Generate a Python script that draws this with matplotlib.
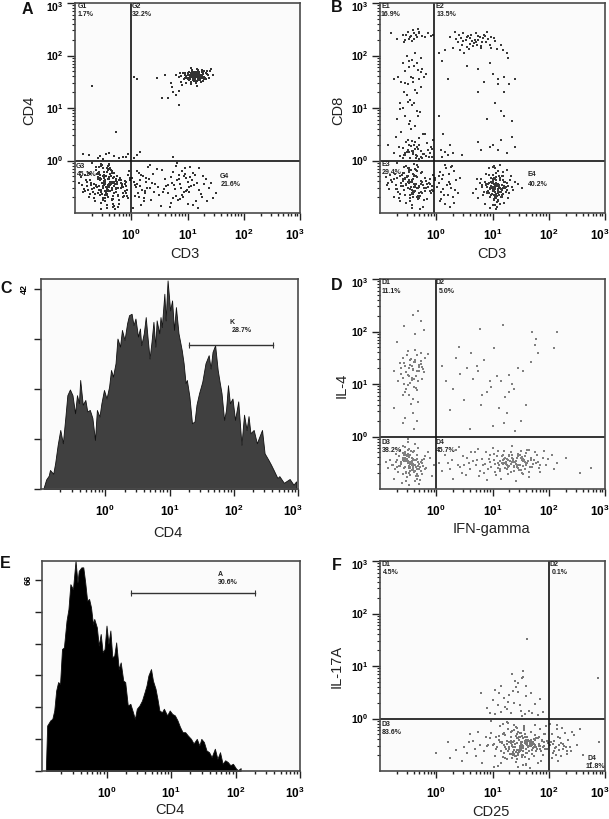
import numpy as np
import matplotlib
matplotlib.use("Agg")
import matplotlib.pyplot as plt
from matplotlib.transforms import ScaledTranslation

W, H = 609, 819
plt.rcParams['font.family'] = ['Liberation Sans', 'DejaVu Sans']
plt.rcParams['mathtext.default'] = 'regular'

# All scatter values are log10 of the fluorescence intensity
a_g2_x = [1.10,1.05,1.18,0.95,1.22,1.12,1.01,1.30,0.88,1.15,
          1.08,1.25,0.98,1.16,1.35,1.04,1.20,0.92,1.13,1.28,
          1.07,1.19,0.85,1.40,1.11,1.02,1.24,1.17,0.96,1.32,
          1.09,1.14,1.23,0.90,1.45,1.06,1.21,0.99,1.27,1.12,
          0.80,1.16,1.38,1.03,1.26,1.10,0.94,1.33,1.18,1.07,
          1.13,1.22,1.00,1.29,0.87,1.42,1.15,1.05,1.20,1.09,
          1.11,1.14,1.17,1.08,1.19,1.06,1.23,1.12,1.16,1.10,
          1.04,1.13,1.21,1.09,1.26,0.97,1.18,1.07,1.31,1.15,
          1.02,1.24,1.11,0.93,1.19,1.28,1.06,1.14,1.36,1.00,
          1.17,1.08,1.22,1.12,0.89,1.27,1.05,1.16,1.34,1.10,
          1.20,0.96,1.13,1.25,1.03,1.18,1.09,1.30,1.15,1.07]
a_g2_y = [1.60,1.55,1.65,1.58,1.62,1.52,1.67,1.60,1.50,1.63,
          1.70,1.57,1.48,1.59,1.64,1.61,1.53,1.66,1.56,1.68,
          1.45,1.72,1.59,1.70,1.62,1.54,1.50,1.75,1.63,1.55,
          1.58,1.66,1.61,1.44,1.62,1.76,1.68,1.57,1.52,1.60,
          1.62,1.42,1.58,1.69,1.73,1.65,1.56,1.66,1.60,1.50,
          1.64,1.56,1.62,1.70,1.66,1.75,1.47,1.58,1.63,1.54,
          1.61,1.57,1.59,1.63,1.65,1.60,1.58,1.55,1.62,1.67,
          1.59,1.64,1.56,1.53,1.68,1.61,1.71,1.66,1.57,1.52,
          1.62,1.60,1.69,1.56,1.58,1.64,1.49,1.60,1.62,1.55,
          1.51,1.72,1.54,1.60,1.61,1.59,1.63,1.67,1.70,1.57,
          1.66,1.67,1.53,1.62,1.58,1.55,1.62,1.56,1.69,1.64]
a_g3_x = [-0.45,-0.52,-0.38,-0.60,-0.30,-0.48,-0.70,-0.42,-0.25,-0.55,
          -0.35,-0.62,-0.47,-0.18,-0.80,-0.40,-0.50,-0.28,-0.66,-0.36,
          -0.12,-0.58,-0.44,-0.74,-0.32,-0.20,-0.53,-0.88,-0.41,-0.08,
          -0.64,-0.34,-0.49,-0.22,-0.78,-0.43,-0.56,-0.15,-0.37,-0.68,
          -0.05,-0.46,-0.84,-0.27,-0.54,-0.39,-0.72,-0.10,-0.33,-0.60,
          -0.48,-0.24,-0.90,-0.42,-0.57,-0.30,-0.76,-0.02,-0.51,-0.36,
          -0.65,-0.17,-0.44,-0.82,-0.29,-0.55,-0.40,-0.70,-0.12,-0.47,
          -0.34,-0.61,-0.21,-0.50,-0.86,-0.38,-0.07,-0.59,-0.43,-0.26,
          -0.73,-0.35,-0.52,-0.15,-0.46,-0.67,-0.31,-0.93,-0.41,-0.04,
          -0.56,-0.23,-0.48,-0.77,-0.33,-0.62,-0.10,-0.45,-0.37,-0.53,
          -0.58,-0.28,-0.44,-0.69,-0.19,-0.50,-0.35,-0.83,-0.40,-0.14,
          -0.63,-0.32,-0.47,-0.25,-0.75,-0.54,-0.39,-0.06,-0.60,-0.42,
          -0.41,-0.46,-0.36,-0.50,-0.31,-0.43,-0.55,-0.38,-0.27,-0.48,
          -0.33,-0.58,-0.44,-0.22,-0.52,-0.40,-0.29,-0.63,-0.37,-0.47,
          -0.16,-0.54,-0.42,-0.71,-0.34,-0.24,-0.49,-0.11,-0.39,-0.57,
          -0.45,-0.30,-0.66,-0.51,-0.20,-0.43,-0.35,-0.60,-0.47,-0.26,
          -0.40,-0.53,-0.32,-0.79,-0.44,-0.13,-0.38,-0.56,-0.28,-0.49,
          -0.03,-0.36,-0.61,-0.42,-0.18,-0.50,-0.33,-0.68,-0.45,-0.09,
          -0.39,-0.54,-0.23,-0.47,-0.74,-0.31,-0.41,-0.59,-0.35,-0.46]
a_g3_y = [-0.50,-0.42,-0.58,-0.35,-0.62,-0.28,-0.55,-0.70,-0.40,-0.65,
          -0.20,-0.48,-0.78,-0.52,-0.38,-0.45,-0.14,-0.60,-0.72,-0.30,
          -0.44,-0.56,-0.85,-0.25,-0.68,-0.34,-0.10,-0.47,-0.36,-0.57,
          -0.63,-0.52,-0.22,-0.75,-0.41,-0.90,-0.33,-0.50,-0.16,-0.60,
          -0.28,-0.66,-0.54,-0.39,-0.80,-0.07,-0.46,-0.61,-0.73,-0.24,
          -0.43,-0.88,-0.31,-0.58,-0.12,-0.48,-0.69,-0.37,-0.53,-0.18,
          -0.77,-0.44,-0.64,-0.27,-0.93,-0.35,-0.51,-0.05,-0.59,-0.71,
          -0.40,-0.26,-0.83,-0.49,-0.60,-0.15,-0.67,-0.32,-0.55,-0.45,
          -0.38,-0.74,-0.09,-0.62,-0.29,-0.52,-0.86,-0.42,-0.56,-0.20,
          -0.33,-0.68,-0.47,-0.57,-0.82,-0.13,-0.40,-0.61,-0.25,-0.92,
          -0.49,-0.36,-0.65,-0.54,-0.43,-0.30,-0.76,-0.58,-0.17,-0.70,
          -0.46,-0.89,-0.39,-0.52,-0.23,-0.60,-0.08,-0.72,-0.34,-0.50,
          -0.36,-0.44,-0.29,-0.52,-0.41,-0.22,-0.38,-0.47,-0.55,-0.33,
          -0.42,-0.26,-0.50,-0.37,-0.63,-0.31,-0.45,-0.18,-0.40,-0.58,
          -0.48,-0.35,-0.11,-0.43,-0.54,-0.66,-0.28,-0.39,-0.47,-0.21,
          -0.59,-0.32,-0.44,-0.71,-0.37,-0.50,-0.24,-0.62,-0.41,-0.30,
          -0.46,-0.56,-0.34,-0.49,-0.15,-0.68,-0.42,-0.27,-0.53,-0.39,
          -0.33,-0.45,-0.51,-0.19,-0.38,-0.75,-0.43,-0.60,-0.29,-0.48,
          -0.35,-0.06,-0.52,-0.40,-0.64,-0.23,-0.46,-0.31,-0.57,-0.37]
a_g4_x = [0.05,0.12,0.20,0.28,0.35,0.10,0.42,0.18,0.30,0.07,
          0.25,0.38,0.15,0.50,0.03,0.33,0.22,0.47,0.60,0.70,
          0.55,0.78,0.65,0.85,0.72,0.92,0.80,0.68,0.98,0.88,
          0.75,1.02,0.83,0.95,0.62,1.08,0.90,1.14,1.00,0.86,
          1.20,1.05,0.94,1.26,1.12,0.82,1.32,1.18,0.97,1.38,
          1.10,1.24,0.74,1.42,1.03,1.15,1.50,0.91,1.28,1.45,
          0.16,0.40,0.58,0.27,0.08,0.52,0.36,0.14,0.45,0.23,
          0.02,0.11,0.19,0.26,0.33,0.06,0.17,0.24,0.31,0.13,
          0.76,0.84,0.93,1.01,0.89,0.79,0.96,1.07,0.71,1.17,
          0.87,0.99,0.66,1.09,0.81,1.21,0.57,1.30,1.35,1.04]
a_g4_y = [-0.40,-0.62,-0.30,-0.52,-0.75,-0.20,-0.45,-0.85,-0.12,-0.68,
          -0.58,-0.25,-0.38,-0.65,-0.90,-0.08,-0.72,-0.50,-0.35,-0.80,
          -0.18,-0.55,-0.62,-0.28,-0.42,-0.70,-0.10,-0.88,-0.33,-0.52,
          -0.22,-0.60,-0.75,-0.15,-0.48,-0.38,-0.66,-0.27,-0.82,-0.44,
          -0.56,-0.13,-0.30,-0.70,-0.46,-0.04,-0.36,-0.90,-0.58,-0.52,
          -0.24,-0.64,-0.72,-0.42,-0.50,-0.78,-0.62,-0.20,-0.30,-0.72,
          -0.48,-0.60,-0.55,-0.34,-0.50,-0.86,-0.42,-0.24,-0.16,-0.78,
          -0.33,-0.44,-0.57,-0.40,-0.53,-0.47,-0.28,-0.62,-0.36,-0.70,
          -0.46,-0.35,-0.60,-0.40,-0.53,-0.68,-0.26,-0.49,-0.32,-0.43,
          -0.74,-0.57,-0.47,-0.84,-0.37,-0.14,-0.60,-0.44,-0.78,-0.31]
a_other_x = [-0.70,-0.28,-0.85,-0.60,-0.45,-0.30,-0.15,-0.50,-0.05,0.10,
             0.05,0.15,0.75,0.05,0.10,0.45,0.55,0.65,0.85,
             0.60,0.70,0.72,0.75,0.80,0.85,-0.75,-0.40,-0.22,-0.55,-0.10]
a_other_y = [1.42,0.55,0.12,0.05,0.13,0.08,0.06,0.03,0.12,0.10,
             0.04,0.16,0.07,1.60,1.55,1.58,1.20,1.20,1.05,
             1.62,1.48,1.40,1.30,1.25,1.32,0.10,0.14,0.04,0.08,0.06]

b_e1_x = [-0.80,-0.60,-0.50,-0.45,-0.40,-0.35,-0.30,-0.25,-0.55,-0.42,
          -0.48,-0.33,-0.20,-0.15,-0.10,-0.05,-0.70,-0.38,-0.28,-0.52,
          -0.60,-0.55,-0.48,-0.40,-0.32,-0.25,-0.68,-0.62,-0.45,-0.35,
          -0.30,-0.22,-0.18,-0.75,-0.50,-0.42,-0.37,-0.58,-0.65,-0.28,
          -0.52,-0.47,-0.44,-0.40,-0.35,-0.60,-0.55,-0.70,-0.32,-0.48,
          -0.85,-0.72,-0.62,-0.50,-0.45,-0.38,-0.20,-0.10,-0.05,-0.30,
          -0.58,-0.50,-0.42,-0.35,-0.28,-0.22,-0.15,-0.65,-0.40,-0.46,
          -0.55,-0.36,-0.26,-0.12,-0.44,-0.60,-0.33,-0.18,-0.75,-0.08,
          -0.46,-0.39,-0.53,-0.31,-0.43,-0.57,-0.36,-0.49,-0.27,-0.41,
          -0.56,-0.44,-0.34,-0.51,-0.64,-0.29,-0.47,-0.37,-0.24,-0.54,
          -0.45,-0.30,-0.38,-0.52,-0.16,-0.42,-0.60,-0.34,-0.48,-0.27,
          -0.41,-0.23,-0.56,-0.13,-0.36,-0.49,-0.67,-0.31,-0.44,-0.07]
b_e1_y = [2.42,2.40,2.45,2.38,2.42,2.35,2.44,2.38,2.30,2.48,
          2.32,2.50,2.35,2.42,2.38,2.40,2.32,2.05,1.95,2.00,
          1.85,1.70,1.90,1.80,1.72,1.75,1.60,1.50,1.60,1.85,
          1.55,1.60,1.65,1.55,1.45,1.50,1.35,1.30,1.10,1.40,
          1.25,1.15,1.05,1.10,0.95,1.00,0.85,0.80,0.85,0.70,
          0.30,0.45,0.55,0.40,0.60,0.35,0.50,0.25,0.40,0.30,
          0.10,0.20,0.15,0.25,0.18,0.12,0.20,0.08,0.30,0.05,
          0.15,0.10,0.05,0.15,0.18,0.05,0.22,0.08,0.14,0.06,
          2.36,2.31,2.40,2.43,2.28,2.25,2.39,1.78,1.68,1.58,
          1.48,1.92,1.28,1.12,0.98,0.92,0.75,0.66,0.50,0.36,
          0.28,0.42,0.22,0.17,0.34,0.12,0.24,0.09,0.30,0.07,
          0.19,0.13,0.11,0.07,0.04,0.16,0.26,0.03,0.38,0.21]
b_e2_x = [0.05,0.15,0.25,0.33,0.40,0.48,0.55,0.62,0.70,0.78,
          0.85,0.90,0.38,0.45,0.52,0.60,0.68,0.75,0.82,0.30,
          0.42,0.50,0.58,0.65,0.72,0.80,0.88,0.95,1.05,1.15,
          1.25,0.10,0.20,0.55,0.75,1.00,0.95,1.10,0.85,1.20,
          1.40,1.30,1.10,0.75,1.05,1.15,1.20,1.35,0.90,1.00,
          0.05,0.12,0.25,0.30,0.75,0.95,1.10,1.25,1.40,1.35,
          1.15,0.80,0.45,0.20,0.08,0.15,0.10,1.20,
          0.35,0.47,0.57,0.64,0.74,0.83,0.92,0.67,0.54,0.87,
          0.44,0.71,0.60,0.79,0.97,1.08,0.98,1.18,1.03,1.28]
b_e2_y = [2.05,2.10,2.35,2.45,2.40,2.42,2.35,2.40,2.42,2.35,
          2.40,2.44,2.25,2.20,2.30,2.22,2.30,2.30,2.25,2.15,
          2.10,2.05,2.12,2.18,2.20,2.15,2.25,2.20,2.28,2.20,
          2.05,1.90,1.55,1.80,1.75,1.65,1.85,1.55,1.50,1.60,
          1.55,1.45,1.45,1.30,1.10,0.95,0.85,0.75,0.80,0.30,
          0.85,0.50,0.30,0.15,0.35,0.25,0.20,0.15,0.25,0.45,
          0.40,0.20,0.10,0.10,0.20,0.16,0.06,1.30,
          2.32,2.28,2.38,2.27,2.37,2.33,2.31,2.24,2.16,2.37,
          2.33,2.26,2.34,2.19,2.14,2.12,2.35,2.10,2.33,1.95]
b_e3_x = [-0.45,-0.52,-0.38,-0.60,-0.30,-0.48,-0.70,-0.42,-0.25,-0.55,
          -0.35,-0.62,-0.47,-0.18,-0.80,-0.40,-0.50,-0.28,-0.66,-0.36,
          -0.12,-0.58,-0.44,-0.74,-0.32,-0.20,-0.53,-0.88,-0.41,-0.08,
          -0.64,-0.34,-0.49,-0.22,-0.78,-0.43,-0.56,-0.15,-0.37,-0.68,
          -0.05,-0.46,-0.84,-0.27,-0.54,-0.39,-0.72,-0.10,-0.33,-0.60,
          -0.48,-0.24,-0.90,-0.42,-0.57,-0.30,-0.76,-0.02,-0.51,-0.36,
          -0.65,-0.17,-0.44,-0.82,-0.29,-0.55,-0.40,-0.70,-0.12,-0.47,
          0.05,0.12,0.18,0.25,0.30,0.08,0.22,0.35,0.15,0.28,
          0.02,0.20,0.10,0.32,0.06,0.26,0.16,0.38,0.04,0.24,
          0.12,0.34,0.09,0.19,0.42,0.27,0.14,0.07,0.31,0.22,
          -0.43,-0.37,-0.50,-0.33,-0.46,-0.28,-0.56,-0.40,-0.23,-0.52,
          -0.36,-0.61,-0.44,-0.19,-0.49,-0.31,-0.69,-0.41,-0.54,-0.26,
          -0.47,-0.13,-0.39,-0.59,-0.34,-0.75,-0.45,-0.21,-0.51,-0.29,
          -0.42,-0.06,-0.63,-0.35,-0.48,-0.16,-0.38,-0.57,-0.25,-0.44,
          -0.03,-0.32,-0.53,-0.71,-0.40,-0.11,-0.46,-0.27,-0.60,-0.37,
          -0.49,-0.20,-0.85,-0.41,-0.30,-0.55,-0.08,-0.43,-0.65,-0.34]
b_e3_y = [-0.50,-0.30,-0.58,-0.35,-0.62,-0.18,-0.55,-0.70,-0.40,-0.65,
          -0.20,-0.48,-0.78,-0.52,-0.38,-0.45,-0.14,-0.60,-0.72,-0.30,
          -0.44,-0.56,-0.85,-0.25,-0.68,-0.34,-0.10,-0.47,-0.36,-0.57,
          -0.63,-0.52,-0.22,-0.75,-0.41,-0.90,-0.33,-0.50,-0.16,-0.60,
          -0.28,-0.66,-0.54,-0.39,-0.80,-0.07,-0.46,-0.61,-0.73,-0.24,
          -0.43,-0.88,-0.31,-0.58,-0.12,-0.48,-0.69,-0.37,-0.53,-0.18,
          -0.77,-0.44,-0.64,-0.27,-0.93,-0.35,-0.51,-0.05,-0.59,-0.71,
          -0.30,-0.55,-0.15,-0.45,-0.70,-0.60,-0.25,-0.38,-0.82,-0.10,
          -0.50,-0.65,-0.36,-0.20,-0.78,-0.52,-0.08,-0.62,-0.42,-0.88,
          -0.28,-0.57,-0.73,-0.47,-0.33,-0.12,-0.66,-0.22,-0.80,-0.40,
          -0.38,-0.46,-0.29,-0.53,-0.41,-0.24,-0.35,-0.60,-0.47,-0.32,
          -0.44,-0.27,-0.56,-0.39,-0.15,-0.50,-0.34,-0.63,-0.45,-0.21,
          -0.55,-0.42,-0.30,-0.48,-0.70,-0.36,-0.19,-0.52,-0.40,-0.67,
          -0.26,-0.58,-0.43,-0.31,-0.37,-0.74,-0.49,-0.23,-0.61,-0.41,
          -0.33,-0.12,-0.46,-0.54,-0.28,-0.35,-0.65,-0.44,-0.39,-0.51,
          -0.17,-0.59,-0.42,-0.25,-0.72,-0.36,-0.48,-0.62,-0.30,-0.09]
b_e4_x = [1.05,0.98,1.12,0.90,1.18,1.02,1.08,0.85,1.25,1.00,
          1.10,0.95,1.15,0.80,1.30,1.04,0.92,1.20,1.07,0.88,
          1.35,1.00,1.13,0.75,1.22,1.06,0.96,1.16,0.83,1.28,
          1.03,1.09,0.93,1.40,0.70,1.11,1.01,1.19,0.87,1.24,
          1.05,0.97,1.14,0.78,1.33,1.08,0.91,1.17,1.02,1.26,
          0.82,1.10,1.37,0.94,1.06,1.21,0.99,1.45,0.72,1.13,
          1.04,1.09,1.00,1.07,1.12,0.96,1.03,1.15,1.01,1.06,
          1.10,0.98,1.08,1.14,1.05,0.93,1.18,1.02,0.66,1.52,
          1.06,1.11,1.01,1.16,0.97,1.08,1.03,1.20,0.94,1.13,
          1.05,0.89,1.10,1.24,1.00,1.07,1.15,0.92,1.04,1.19,
          1.09,0.99,1.12,1.02,1.27,0.86,1.06,1.17,0.95,1.10,
          1.03,1.14,1.08,0.81,1.22,1.00,1.05,1.31,0.91,1.12,
          1.07,0.98,1.16,1.04,1.09,0.88,1.18,1.01,1.25,1.06]
b_e4_y = [-0.55,-0.40,-0.65,-0.50,-0.30,-0.75,-0.48,-0.60,-0.42,-0.85,
          -0.20,-0.70,-0.55,-0.35,-0.62,-0.15,-0.45,-0.80,-0.68,-0.25,
          -0.50,-0.58,-0.38,-0.72,-0.52,-0.32,-0.90,-0.47,-0.65,-0.72,
          -0.10,-0.78,-0.28,-0.40,-0.55,-0.60,-0.36,-0.22,-0.82,-0.60,
          -0.68,-0.53,-0.08,-0.42,-0.30,-0.88,-0.62,-0.70,-0.44,-0.18,
          -0.50,-0.75,-0.56,-0.14,-0.92,-0.48,-0.64,-0.45,-0.35,-0.82,
          -0.52,-0.58,-0.50,-0.63,-0.46,-0.55,-0.66,-0.60,-0.43,-0.72,
          -0.54,-0.48,-0.68,-0.38,-0.60,-0.42,-0.64,-0.33,-0.62,-0.52,
          -0.44,-0.51,-0.39,-0.57,-0.33,-0.47,-0.55,-0.41,-0.62,-0.53,
          -0.36,-0.46,-0.61,-0.50,-0.27,-0.42,-0.69,-0.58,-0.48,-0.37,
          -0.56,-0.43,-0.30,-0.74,-0.49,-0.40,-0.23,-0.66,-0.52,-0.45,
          -0.59,-0.34,-0.79,-0.47,-0.41,-0.54,-0.71,-0.38,-0.60,-0.46,
          -0.49,-0.65,-0.29,-0.84,-0.56,-0.44,-0.53,-0.12,-0.57,-0.37]

d_d1_x = [-0.70,-0.60,-0.52,-0.45,-0.40,-0.35,-0.28,-0.20,-0.15,-0.55,
          -0.48,-0.42,-0.38,-0.30,-0.25,-0.62,-0.50,-0.44,-0.36,-0.33,
          -0.58,-0.46,-0.40,-0.26,-0.22,-0.68,-0.56,-0.48,-0.42,-0.35,
          -0.75,-0.65,-0.50,-0.38,-0.28,-0.60,-0.45,-0.32,-0.55,-0.42,
          -0.75,-0.35,-0.40,-0.60,-0.28,-0.22,-0.33,-0.42,-0.58,-0.38,
          -0.47,-0.53,-0.37,-0.43,-0.31,-0.57,-0.41,-0.49,-0.34,-0.27,
          -0.51,-0.44,-0.39,-0.63,-0.24,-0.46,-0.54,-0.36,-0.30,-0.59]
d_d1_y = [1.80,1.50,1.55,1.48,1.42,1.55,1.38,1.50,1.58,1.35,
          1.30,1.28,1.42,1.25,1.32,1.20,1.18,1.12,1.15,1.05,
          1.00,1.02,0.95,1.10,1.22,1.05,0.85,0.80,0.72,0.88,
          1.25,1.40,1.62,1.65,1.60,0.80,0.62,0.65,0.35,0.45,
          0.55,0.30,0.15,0.25,2.20,2.02,2.40,2.32,2.10,1.95,
          1.37,1.22,1.45,1.08,1.33,1.40,1.26,1.16,1.24,1.44,
          0.98,1.34,1.10,1.30,1.28,1.46,0.90,0.92,1.36,1.12]
d_d2_x = [0.10,0.18,0.30,0.42,0.55,0.65,0.75,0.85,0.90,0.98,
          1.08,1.15,1.22,1.30,1.38,1.45,1.55,1.68,0.35,0.50,
          0.62,0.72,0.82,0.95,1.02,1.12,1.25,1.35,1.50,1.60,
          0.25,0.60,1.00,1.20,1.40,0.80,1.30,1.78,1.80,2.10,
          0.40,0.78,1.18,1.70,1.75,2.15]
d_d2_y = [1.35,1.05,0.90,1.20,1.30,1.10,1.25,1.45,0.85,0.95,
          1.15,1.05,0.75,1.18,0.90,1.30,1.25,1.42,1.50,0.70,
          1.60,1.35,0.80,1.05,1.68,0.55,0.45,1.00,0.30,0.60,
          0.50,0.15,0.20,0.25,0.10,0.60,0.85,1.85,1.60,1.68,
          1.70,2.05,2.12,2.00,1.75,2.00]
d_d3_x = [-0.50,-0.42,-0.55,-0.38,-0.62,-0.48,-0.35,-0.58,-0.45,-0.30,
          -0.66,-0.52,-0.40,-0.70,-0.28,-0.56,-0.44,-0.34,-0.60,-0.47,
          -0.25,-0.74,-0.53,-0.41,-0.32,-0.64,-0.49,-0.37,-0.22,-0.78,
          -0.57,-0.43,-0.29,-0.68,-0.51,-0.36,-0.61,-0.46,-0.18,-0.82,
          -0.54,-0.39,-0.72,-0.31,-0.48,-0.59,-0.26,-0.44,-0.65,-0.33,
          -0.50,-0.40,-0.55,-0.46,-0.35,-0.60,-0.43,-0.52,-0.38,-0.48,
          -0.86,-0.12,-0.75,-0.20,-0.08,-0.90,-0.15,-0.04,-0.50,-0.30,
          -0.47,-0.53,-0.41,-0.36,-0.58,-0.44,-0.50,-0.33,-0.62,-0.39,
          -0.55,-0.27,-0.46,-0.67,-0.42,-0.51,-0.31,-0.57,-0.37,-0.49,
          -0.43,-0.23,-0.71,-0.54,-0.35,-0.45,-0.60,-0.40,-0.52,-0.29,
          -0.48,-0.63,-0.34,-0.44,-0.56,-0.38,-0.77,-0.41,-0.25,-0.50,
          -0.46,-0.59,-0.32,-0.53,-0.42,-0.69,-0.36,-0.47,-0.20,-0.55]
d_d3_y = [-0.50,-0.62,-0.42,-0.55,-0.48,-0.70,-0.35,-0.60,-0.28,-0.52,
          -0.38,-0.78,-0.45,-0.58,-0.66,-0.20,-0.55,-0.42,-0.72,-0.36,
          -0.50,-0.62,-0.85,-0.30,-0.75,-0.25,-0.60,-0.15,-0.42,-0.55,
          -0.35,-0.48,-0.82,-0.68,-0.10,-0.58,-0.88,-0.65,-0.60,-0.45,
          -0.70,-0.28,-0.33,-0.52,-0.92,-0.18,-0.72,-0.40,-0.56,-0.22,
          -0.46,-0.54,-0.58,-0.48,-0.62,-0.44,-0.52,-0.38,-0.65,-0.56,
          -0.60,-0.40,-0.80,-0.62,-0.75,-0.48,-0.30,-0.55,-0.04,-0.90,
          -0.53,-0.47,-0.59,-0.44,-0.40,-0.63,-0.37,-0.56,-0.51,-0.68,
          -0.33,-0.49,-0.74,-0.57,-0.43,-0.26,-0.61,-0.46,-0.54,-0.39,
          -0.64,-0.57,-0.49,-0.36,-0.80,-0.50,-0.31,-0.66,-0.43,-0.59,
          -0.24,-0.53,-0.71,-0.47,-0.41,-0.84,-0.55,-0.62,-0.45,-0.34,
          -0.58,-0.41,-0.48,-0.67,-0.52,-0.44,-0.76,-0.60,-0.38,-0.29]
d_d4_x = [0.05,0.15,0.25,0.35,0.45,0.55,0.62,0.70,0.76,0.82,
          0.88,0.92,0.96,1.00,1.04,1.08,1.12,1.15,1.18,1.20,
          1.22,1.25,1.28,1.30,1.32,1.35,1.38,1.40,1.42,1.45,
          1.48,1.50,1.52,1.55,1.58,1.60,1.62,1.65,1.68,1.70,
          1.75,1.80,1.85,1.90,1.95,2.05,2.15,2.30,2.55,2.75,
          0.20,0.40,0.60,0.72,0.85,0.95,1.05,1.14,1.24,1.34,
          1.44,1.54,1.64,1.72,1.82,1.92,0.30,0.50,0.68,0.78,
          0.90,1.02,1.10,1.18,1.26,1.36,1.46,1.56,1.66,1.78,
          1.10,1.20,1.30,1.40,1.50,1.60,1.25,1.35,1.45,1.55,
          1.16,1.27,1.37,1.47,1.57,1.21,1.33,1.43,1.53,1.63,
          0.83,0.93,1.03,1.13,1.23,0.98,1.06,1.17,1.29,1.39,
          1.49,1.59,1.69,1.79,1.41,1.51,1.61,1.31,1.19,1.09,
          0.10,0.28,0.38,0.48,0.58,0.66,0.74,0.52,0.43,0.87,
          1.34,1.44,1.24,1.54,1.14,1.64,1.74,1.84,1.98,2.10,
          1.28,1.38,1.48,1.58,1.68,1.32,1.42,1.52,1.36,1.46]
d_d4_y = [-0.50,-0.35,-0.62,-0.25,-0.70,-0.40,-0.30,-0.55,-0.75,-0.42,
          -0.30,-0.62,-0.48,-0.22,-0.68,-0.38,-0.55,-0.80,-0.45,-0.28,
          -0.60,-0.42,-0.72,-0.35,-0.52,-0.18,-0.65,-0.48,-0.85,-0.38,
          -0.55,-0.28,-0.70,-0.42,-0.62,-0.32,-0.50,-0.78,-0.40,-0.58,
          -0.30,-0.48,-0.68,-0.40,-0.55,-0.35,-0.50,-0.40,-0.70,-0.60,
          -0.50,-0.20,-0.62,-0.45,-0.70,-0.35,-0.52,-0.62,-0.48,-0.40,
          -0.58,-0.72,-0.25,-0.52,-0.60,-0.28,-0.80,-0.55,-0.30,-0.65,
          -0.82,-0.45,-0.28,-0.35,-0.55,-0.45,-0.33,-0.44,-0.58,-0.50,
          -0.50,-0.42,-0.56,-0.48,-0.40,-0.52,-0.62,-0.36,-0.60,-0.46,
          -0.37,-0.58,-0.43,-0.64,-0.38,-0.50,-0.30,-0.54,-0.44,-0.47,
          -0.55,-0.43,-0.33,-0.66,-0.41,-0.58,-0.74,-0.50,-0.37,-0.59,
          -0.35,-0.54,-0.44,-0.36,-0.47,-0.63,-0.26,-0.46,-0.53,-0.60,
          -0.66,-0.44,-0.55,-0.38,-0.50,-0.46,-0.24,-0.74,-0.58,-0.52,
          -0.49,-0.41,-0.53,-0.56,-0.46,-0.68,-0.45,-0.55,-0.42,-0.62,
          -0.44,-0.57,-0.36,-0.49,-0.43,-0.67,-0.52,-0.39,-0.48,-0.54]

f_d1_x = [1.62,1.35,0.80,0.90,1.00,1.05,1.10,1.15,1.20,1.25,
          1.30,1.38,1.45,1.50,1.60,1.70,1.75,1.85,1.40,1.55,
          1.05,1.15,1.22,1.32,1.42,1.52,1.65,0.95,1.12,1.28,
          1.36,1.48,1.58,1.68,1.80,1.90,1.52,1.45,1.60,1.55]
f_d1_y = [1.52,0.85,0.48,0.20,0.35,0.55,0.25,0.62,0.40,0.18,
          0.45,0.30,0.50,0.15,0.42,0.10,0.28,0.38,0.72,0.80,
          0.08,0.12,0.22,0.10,0.60,0.05,0.15,0.10,0.48,0.32,
          0.52,0.25,0.08,0.48,0.06,0.12,0.78,0.68,0.62,0.90]
f_d3_x = [0.00,0.25,0.50,0.60,0.70,0.20,0.85,0.95,0.35,1.02,
          0.45,0.75,0.90,1.05,0.65,0.82,0.98,1.08,0.55,1.12,
          1.15,1.18,1.20,1.22,1.25,1.28,1.30,1.32,1.34,1.36,
          1.38,1.40,1.42,1.44,1.46,1.48,1.50,1.52,1.54,1.56,
          1.58,1.60,1.62,1.64,1.66,1.68,1.70,1.72,1.74,1.76,
          1.78,1.80,1.82,1.84,1.86,1.88,1.90,1.92,1.94,1.96,
          1.10,1.16,1.24,1.33,1.41,1.49,1.57,1.65,1.73,1.81,
          1.89,1.97,1.14,1.26,1.37,1.47,1.59,1.69,1.79,1.91,
          1.13,1.21,1.29,1.39,1.51,1.61,1.71,1.83,1.93,1.99,
          1.35,1.43,1.53,1.63,1.75,1.85,1.45,1.55,1.67,1.77,
          1.40,1.50,1.60,1.70,1.48,1.58,1.68,1.52,1.62,1.72,
          1.18,1.28,1.38,1.46,1.56,1.66,1.76,1.86,1.95,1.03,
          1.44,1.34,1.54,1.27,1.64,1.41,1.50,1.59,1.31,1.47,
          1.23,1.57,1.37,1.66,1.43,1.19,1.53,1.74,1.30,1.49,
          1.62,1.39,1.11,1.55,1.82,1.46,1.25,1.60,1.35,1.72,
          1.42,1.52,1.65,1.33,0.92,1.48,1.78,1.17,1.56,1.38,
          1.45,1.29,1.61,1.88,1.40,1.07,1.54,1.69,1.36,1.51,
          1.22,1.47,1.63,1.00,1.84,1.43,1.58,1.32,1.73,1.50,
          0.78,1.15,0.88,1.41,0.68,1.26,0.58,1.55,0.97,1.37,
          1.68,1.44,1.20,1.92,1.49,1.06,1.60,1.34,1.76,1.46]
f_d3_y = [-0.65,-0.75,-0.55,-0.30,-0.72,-0.45,-0.62,-0.38,-0.60,-0.48,
          -0.80,-0.25,-0.52,-0.72,-0.42,-0.85,-0.28,-0.55,-0.65,-0.40,
          -0.62,-0.30,-0.50,-0.75,-0.42,-0.20,-0.58,-0.35,-0.68,-0.45,
          -0.12,-0.55,-0.82,-0.38,-0.60,-0.28,-0.48,-0.70,-0.52,-0.18,
          -0.42,-0.65,-0.35,-0.78,-0.50,-0.25,-0.60,-0.44,-0.72,-0.32,
          -0.55,-0.85,-0.48,-0.20,-0.62,-0.40,-0.70,-0.52,-0.30,-0.58,
          -0.90,-0.45,-0.58,-0.25,-0.72,-0.52,-0.30,-0.62,-0.48,-0.38,
          -0.55,-0.42,-0.15,-0.78,-0.55,-0.35,-0.88,-0.45,-0.58,-0.30,
          -0.45,-0.65,-0.55,-0.42,-0.60,-0.50,-0.68,-0.36,-0.58,-0.46,
          -0.50,-0.60,-0.44,-0.55,-0.40,-0.52,-0.70,-0.56,-0.48,-0.62,
          -0.48,-0.54,-0.58,-0.50,-0.62,-0.46,-0.40,-0.74,-0.66,-0.56,
          -0.10,-0.08,-0.22,-0.92,-0.15,-0.95,-0.12,-0.80,-0.15,-0.92,
          -0.46,-0.53,-0.37,-0.61,-0.43,-0.33,-0.57,-0.49,-0.68,-0.41,
          -0.54,-0.36,-0.63,-0.47,-0.29,-0.74,-0.51,-0.39,-0.45,-0.57,
          -0.44,-0.60,-0.34,-0.70,-0.52,-0.26,-0.48,-0.40,-0.76,-0.46,
          -0.64,-0.33,-0.53,-0.43,-0.50,-0.59,-0.37,-0.47,-0.22,-0.67,
          -0.38,-0.56,-0.49,-0.42,-0.71,-0.36,-0.61,-0.46,-0.54,-0.28,
          -0.32,-0.64,-0.41,-0.50,-0.58,-0.19,-0.73,-0.47,-0.55,-0.44,
          -0.50,-0.84,-0.36,-0.16,-0.58,-0.06,-0.44,-0.89,-0.04,-0.69,
          -0.53,-0.77,-0.28,-0.45,-0.35,-0.59,-0.86,-0.24,-0.50,-0.66]
f_d4_x = [2.02,2.05,2.08,2.10,2.12,2.15,2.18,2.20,2.22,2.25,
          2.28,2.30,2.35,2.40,2.45,2.50,2.60,2.75,2.90,2.06,
          2.14,2.24,2.32,2.42,2.03,2.16,2.26,2.09,2.19,2.38,
          2.88,2.55,2.04,2.11,2.17,2.07,2.13,2.21,2.27,2.33]
f_d4_y = [-0.50,-0.30,-0.65,-0.42,-0.55,-0.20,-0.60,-0.38,-0.72,-0.48,
          -0.28,-0.55,-0.40,-0.62,-0.32,-0.50,-0.70,-0.85,-0.45,-0.75,
          -0.12,-0.18,-0.68,-0.25,-0.10,-0.80,-0.58,-0.62,-0.50,-0.55,
          0.78,-0.20,-0.44,-0.57,-0.35,-0.48,-0.69,-0.46,-0.52,-0.61]

# Histogram C: log10(CD4) channel and count
c_pos = [-0.96,-0.92,-0.88,-0.86,-0.81,-0.78,-0.74,-0.70,-0.66,-0.62,
         -0.59,-0.55,-0.51,-0.47,-0.44,-0.41,-0.39,-0.35,-0.31,-0.28,
         -0.24,-0.20,-0.16,-0.13,-0.09,-0.06,-0.02,0.02,0.06,0.09,
         0.12,0.16,0.19,0.23,0.26,0.30,0.34,0.37,0.41,0.44,
         0.47,0.51,0.54,0.56,0.60,0.63,0.66,0.69,0.72,0.75,
         0.78,0.80,0.84,0.86,0.88,0.90,0.92,0.94,0.97,1.01,
         1.04,1.07,1.10,1.14,1.19,1.22,1.25,1.27,1.31,1.35,
         1.39,1.42,1.46,1.51,1.56,1.61,1.64,1.67,1.71,1.75,
         1.78,1.81,1.85,1.88,1.91,1.94,1.98,2.02,2.07,2.12,
         2.16,2.20,2.23,2.26,2.31,2.36,2.39,2.44,2.48,2.54,
         2.58,2.62,2.68,2.71,2.78,2.87,2.93,2.97]
c_count = [0.2,2,2.8,4,3.2,5.4,9.3,12.4,9.6,15.2,
           19.7,20.9,19.7,15.9,19.7,18,22.9,17.7,18.7,16.3,
           16.6,14.9,10.3,16.6,15.2,18,20.8,19,21.5,25,
           23.6,26.4,31.6,29.9,33.4,31.3,34.8,36.5,36.8,34.4,
           35.8,32,33.7,30.2,32.7,36.1,31.6,27.4,30.9,35.1,
           29.9,35.4,32.7,36.1,34,37.5,41,35.4,43.8,37.5,
           39.6,33.4,38.2,32.7,29.2,26.4,22.2,22.9,19.4,13.8,
           14.2,17.7,20.1,22.5,26.4,28.1,25.3,28.8,30.2,25,
           22.5,20.1,14.5,16.6,21.8,18,19,14.5,18.4,9.3,
           15.6,12.4,15.3,11.7,12.4,9.6,10.7,12.4,7.5,6.1,
           5.1,4,2.3,2.7,1.3,2.1,0.9,1.6]

# Histogram E: log10(CD4) channel and count
e_pos = [-0.94,-0.92,-0.87,-0.84,-0.81,-0.78,-0.75,-0.72,-0.69,-0.66,
         -0.62,-0.59,-0.56,-0.52,-0.48,-0.45,-0.43,-0.39,-0.36,-0.33,
         -0.30,-0.27,-0.24,-0.21,-0.19,-0.15,-0.12,-0.09,-0.06,-0.03,
         0,0.03,0.06,0.09,0.12,0.15,0.19,0.22,0.26,0.29,
         0.33,0.37,0.41,0.44,0.47,0.51,0.55,0.59,0.62,0.65,
         0.69,0.72,0.76,0.79,0.82,0.86,0.89,0.94,0.98,1.02,
         1.06,1.10,1.14,1.18,1.22,1.26,1.31,1.35,1.40,1.44,
         1.47,1.51,1.55,1.59,1.63,1.68,1.72,1.76,1.80,1.84,
         1.88,1.92,1.96,2.01,2.04,2.08]
e_count = [0.8,15.7,17.5,18,20.9,27.8,30.7,30.1,42.1,42.7,
           51.9,55.9,64.5,62.8,72.6,65.1,69.1,70.3,70.3,65.1,
           58.8,59.4,56.5,50.7,52.5,49.6,43.3,47.3,41,42.1,
           50.2,43.9,48.5,39.3,39.8,44.4,35.2,37.5,31.2,30.7,
           22.6,23.2,20.3,18,21.5,22.6,24.3,27.2,29.5,33,
           35.2,31.2,28.4,24.9,20.9,20.3,21.5,19.2,20.9,19.7,
           19.2,17.5,15.2,13.4,13.4,12.3,11.1,9.5,11.1,8.8,
           11.1,10,7.1,6.5,4.8,7.7,4.2,6.5,2.5,3.7,
           3.1,2,2.5,0.8,0.3,1]

DECADES = [1, 10, 100, 1000]
MINORS = [m * 10.0 ** e for e in (-1, 0, 1, 2) for m in range(2, 10)]
LIMS = (0.1, 1000)

fig = plt.figure(figsize=(W / 100, H / 100), dpi=100, facecolor='white')


def make_axes(l, t, r, b):
    ax = fig.add_axes([l / W, 1 - b / H, (r - l) / W, (b - t) / H])
    ax.set_facecolor('#fbfbfb')
    for s in ax.spines.values():
        s.set_color('#4a4a4a')
        s.set_linewidth(1.2)
    return ax


def dec(values):
    return 10.0 ** np.array(values)


def ptext(x, y, s, **kw):
    kw.setdefault('ha', 'left')
    kw.setdefault('va', 'center')
    fig.text(x / W, 1 - y / H, s, **kw)


def shift(label, dx_px, dy_px):
    label.set_transform(label.get_transform() +
                        ScaledTranslation(dx_px / 100, dy_px / 100, fig.dpi_scale_trans))


def label_axes(ax, xlabel, xy_x, ylabel=None, xy_y=None):
    ax.set_xlabel(xlabel, fontsize=10.5, color='#222222')
    ax.xaxis.set_label_coords(xy_x[0] / W, 1 - xy_x[1] / H, transform=fig.transFigure)
    ax.xaxis.label.set_va('center')
    if ylabel:
        ax.set_ylabel(ylabel, fontsize=10.5, color='#222222')
        ax.yaxis.set_label_coords(xy_y[0] / W, 1 - xy_y[1] / H, transform=fig.transFigure)
        ax.yaxis.label.set_va('center')


def xaxis_log(ax):
    ax.set_xscale('log')
    ax.set_xlim(*LIMS)
    ax.set_xticks(DECADES)
    ax.set_xticklabels([r'$10^{%d}$' % i for i in range(4)], fontsize=8.5, fontweight='bold')
    ax.set_xticks(MINORS, minor=True)
    ax.set_xticklabels([], minor=True)
    ax.tick_params(axis='x', which='major', length=5, width=1, pad=6, color='#222222')
    ax.tick_params(axis='x', which='minor', length=2.5, width=1, color='#222222')
    ax.tick_params(top=False, right=False)
    shift(ax.get_xticklabels()[-1], -5, 0)


def scatter_panel(box, xs, ys, color, size, qx, qy, xlabel, xlab_pos, ylabel, ylab_pos):
    ax = make_axes(*box)
    xaxis_log(ax)
    ax.set_yscale('log')
    ax.set_ylim(*LIMS)
    ax.set_yticks(DECADES)
    ax.set_yticklabels([r'$10^{%d}$' % i for i in range(4)], fontsize=7.5, fontweight='bold')
    ax.set_yticks(MINORS, minor=True)
    ax.set_yticklabels([], minor=True)
    ax.tick_params(axis='y', which='major', length=6, width=1, pad=2.5, color='#222222')
    ax.tick_params(axis='y', which='minor', length=2.5, width=0.8, color='#222222')
    shift(ax.get_yticklabels()[-1], 0, -3)
    ax.scatter(dec(xs), dec(ys), s=size, c=color, marker='s', linewidths=0, clip_on=True)
    ax.axvline(qx, color='#111111', lw=1.2)
    ax.axhline(qy, color='#111111', lw=1.2)
    label_axes(ax, xlabel, xlab_pos, ylabel, ylab_pos)
    return ax


def hist_panel(box, pos, counts, fill, ymax, ticks, gate, xlab_pos):
    ax = make_axes(*box)
    xaxis_log(ax)
    ax.set_ylim(0, ymax)
    ax.set_yticks(ticks)
    ax.set_yticklabels([])
    ax.tick_params(axis='y', length=5, width=1, color='#222222')
    x = dec(pos)
    ax.fill_between(x, counts, 0, color=fill, lw=0.6, edgecolor='#111111')
    ax.plot(dec(gate[:2]), [gate[2], gate[2]], color='#333333', lw=1,
            marker='|', markersize=4, markeredgewidth=0.8)
    label_axes(ax, 'CD4', xlab_pos)
    return ax


A_BOX = (75, 3, 300, 213)
B_BOX = (380, 3, 605, 213)
C_BOX = (41, 279, 298, 489)
D_BOX = (380, 279, 605, 489)
E_BOX = (42, 561, 300, 771)
F_BOX = (380, 561, 605, 771)

scatter_panel(A_BOX, a_g2_x + a_g3_x + a_g4_x + a_other_x, a_g2_y + a_g3_y + a_g4_y + a_other_y,
              '#333333', 1.0, 1, 1, 'CD3', (185, 254), 'CD4', (29, 110))
scatter_panel(B_BOX, b_e1_x + b_e2_x + b_e3_x + b_e4_x, b_e1_y + b_e2_y + b_e3_y + b_e4_y,
              '#3a3a3a', 1.0, 0.92, 1, 'CD3', (492, 254), 'CD8', (338, 110))
scatter_panel(D_BOX, d_d1_x + d_d2_x + d_d3_x + d_d4_x, d_d1_y + d_d2_y + d_d3_y + d_d4_y,
              '#808080', 0.9, 1, 1, 'IFN-gamma', (491, 529), 'IL-4', (342, 385))
scatter_panel(F_BOX, f_d1_x + f_d3_x + f_d4_x, f_d1_y + f_d3_y + f_d4_y,
              '#777777', 0.9, 100, 1, 'CD25', (491, 812), 'IL-17A', (337, 666))

hist_panel(C_BOX, c_pos, c_count, '#404040', 44.1, [0, 10.5, 21, 31.5, 42],
           (1.30, 2.61, 30.2), (168, 533))
hist_panel(E_BOX, e_pos, e_count, '#000000', 72.5, [0, 11, 22, 33, 44, 55, 66],
           (0.385, 2.30, 61.3), (170, 810))

ptext(24, 289, '42', fontsize=6.5, fontweight='bold', rotation=90, ha='center')
ptext(28, 580, '66', fontsize=6.5, fontweight='bold', rotation=90, ha='center')

panel_letters = [('A', 27, 10), ('B', 337, 7), ('C', 6, 288), ('D', 337, 285), ('E', 5, 564), ('F', 337, 565)]
for s, x, y in panel_letters:
    ptext(x, y, s, fontsize=11.5, fontweight='bold', ha='center', color='#111111')

gate_labels = [('G1', 78, 7), ('1.7%', 78, 15), ('G2', 132, 7), ('32.2%', 132, 15),
               ('G3', 76, 167), ('45.1%', 77, 175), ('G4', 220, 177), ('21.6%', 221, 185),
               ('E1', 381, 7), ('16.9%', 381, 15), ('E2', 435, 7), ('13.5%', 437, 15),
               ('E3', 381, 165), ('29.4%', 382, 173), ('E4', 527, 175), ('40.2%', 528, 184),
               ('K', 230, 323), ('28.7%', 232, 331),
               ('D1', 381, 283), ('11.1%', 382, 291), ('D2', 436, 283), ('5.0%', 439, 291),
               ('D3', 381, 442), ('38.2%', 382, 450), ('D4', 436, 442), ('45.7%', 436, 450),
               ('A', 218, 575), ('30.6%', 218, 583),
               ('D1', 381, 565), ('4.5%', 383, 573), ('D2', 550, 565), ('0.1%', 552, 573),
               ('D3', 381, 724), ('83.6%', 382, 733), ('D4', 587, 758), ('11.8%', 586, 767)]
for s, x, y in gate_labels:
    ptext(x, y, s, fontsize=5, fontweight='bold', color='#222222')

fig.savefig('out.png', dpi=100, facecolor='white')
